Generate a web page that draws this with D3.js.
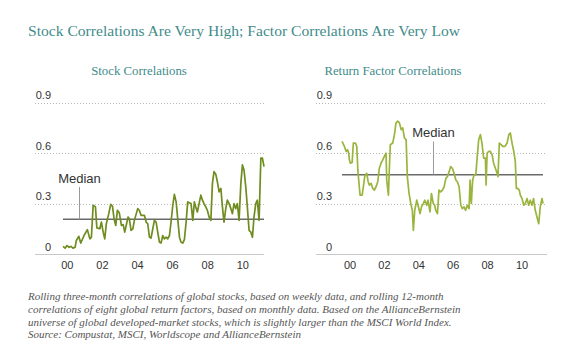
<!DOCTYPE html>
<html>
<head>
<meta charset="utf-8">
<script src="https://cdn.jsdelivr.net/npm/d3@7/dist/d3.min.js"></script>
<style>
  body { margin: 0; background: #fff; }
  svg { display: block; }
  .title { font-family: 'Liberation Serif', serif; fill: #3f8c8a; }
  .sub { font-family: 'Liberation Serif', serif; fill: #3f8c8a; }
  .tick-label { font-family: 'Liberation Sans', Arial, sans-serif; font-size: 11px; fill: #333; }
  .median-label { font-family: 'Liberation Sans', Arial, sans-serif; font-size: 13px; fill: #333; }
  .note { font-family: 'Liberation Serif', serif; font-style: italic; font-size: 11px; fill: #555; }
</style>
</head>
<body>
<div id="chart"></div>
<script>
// stock correlations (rolling three-month, weekly data)
const stockYears = [1999.75, 1999.87, 1999.98, 2000.10, 2000.21, 2000.32, 2000.44, 2000.51, 2000.65, 2000.76,
  2000.95, 2001.14, 2001.28, 2001.37, 2001.47, 2001.60, 2001.68, 2001.85, 2001.94, 2002.04,
  2002.13, 2002.22, 2002.36, 2002.47, 2002.57, 2002.66, 2002.76, 2002.85, 2002.96, 2003.08,
  2003.18, 2003.27, 2003.46, 2003.53, 2003.63, 2003.73, 2003.82, 2004.01, 2004.10, 2004.20,
  2004.39, 2004.49, 2004.58, 2004.68, 2004.77, 2004.87, 2004.96, 2005.06, 2005.15, 2005.25,
  2005.34, 2005.44, 2005.53, 2005.63, 2005.72, 2005.82, 2005.91, 2006.01, 2006.10, 2006.20,
  2006.29, 2006.39, 2006.48, 2006.58, 2006.67, 2006.77, 2006.86, 2007.05, 2007.15, 2007.24,
  2007.32, 2007.41, 2007.51, 2007.61, 2007.70, 2007.79, 2007.89, 2007.98, 2008.08, 2008.18,
  2008.27, 2008.36, 2008.46, 2008.55, 2008.65, 2008.75, 2008.84, 2008.93, 2009.03, 2009.12,
  2009.22, 2009.32, 2009.41, 2009.50, 2009.60, 2009.69, 2009.79, 2009.89, 2009.98, 2010.07,
  2010.17, 2010.26, 2010.36, 2010.46, 2010.55, 2010.64, 2010.74, 2010.83, 2010.93, 2011.03,
  2011.12, 2011.21];
const stockValues = [0.045, 0.035, 0.05, 0.04, 0.045, 0.035, 0.04, 0.08, 0.105, 0.065,
  0.11, 0.145, 0.09, 0.10, 0.29, 0.28, 0.155, 0.15, 0.19, 0.13,
  0.09, 0.18, 0.24, 0.295, 0.285, 0.21, 0.17, 0.26, 0.245, 0.17,
  0.175, 0.13, 0.22, 0.21, 0.14, 0.15, 0.20, 0.27, 0.26, 0.23,
  0.23, 0.19, 0.18, 0.10, 0.095, 0.15, 0.20, 0.19, 0.13, 0.07,
  0.065, 0.11, 0.09, 0.10, 0.09, 0.11, 0.19, 0.29, 0.355, 0.31,
  0.21, 0.10, 0.07, 0.065, 0.085, 0.19, 0.31, 0.30, 0.20, 0.31,
  0.28, 0.25, 0.30, 0.35, 0.32, 0.30, 0.28, 0.26, 0.22, 0.20,
  0.42, 0.49, 0.475, 0.43, 0.37, 0.39, 0.28, 0.19, 0.27, 0.32,
  0.30, 0.27, 0.24, 0.30, 0.27, 0.30, 0.20, 0.42, 0.53, 0.50,
  0.40, 0.28, 0.14, 0.13, 0.10, 0.22, 0.30, 0.32, 0.20, 0.57,
  0.57, 0.52];

// return factor correlations (rolling 12-month, monthly data)
const factorYears = [1999.53, 1999.67, 1999.77, 1999.85, 1999.92, 1999.96, 2000.02, 2000.12, 2000.19, 2000.31,
  2000.39, 2000.45, 2000.51, 2000.58, 2000.70, 2000.77, 2000.85, 2000.97, 2001.05, 2001.12,
  2001.22, 2001.32, 2001.41, 2001.51, 2001.61, 2001.70, 2001.80, 2001.90, 2001.99, 2002.09,
  2002.13, 2002.23, 2002.28, 2002.34, 2002.48, 2002.58, 2002.67, 2002.77, 2002.87, 2002.97,
  2003.06, 2003.16, 2003.26, 2003.33, 2003.43, 2003.53, 2003.62, 2003.68, 2003.76, 2003.88,
  2003.95, 2004.07, 2004.15, 2004.26, 2004.34, 2004.46, 2004.53, 2004.65, 2004.73, 2004.84,
  2004.92, 2004.98, 2005.08, 2005.17, 2005.27, 2005.37, 2005.47, 2005.57, 2005.66, 2005.76,
  2005.85, 2005.95, 2006.05, 2006.15, 2006.24, 2006.34, 2006.44, 2006.53, 2006.63, 2006.72,
  2006.82, 2006.92, 2006.98, 2007.05, 2007.13, 2007.21, 2007.31, 2007.38, 2007.48, 2007.58,
  2007.67, 2007.77, 2007.87, 2007.91, 2007.97, 2008.06, 2008.16, 2008.26, 2008.35, 2008.45,
  2008.55, 2008.60, 2008.68, 2008.78, 2008.88, 2009.01, 2009.13, 2009.23, 2009.32, 2009.42,
  2009.52, 2009.61, 2009.67, 2009.75, 2009.84, 2009.90, 2010.00, 2010.10, 2010.19, 2010.29,
  2010.39, 2010.48, 2010.58, 2010.67, 2010.77, 2010.87, 2010.97, 2011.06, 2011.16, 2011.22];
const factorValues = [0.67, 0.64, 0.61, 0.62, 0.60, 0.56, 0.54, 0.545, 0.66, 0.66,
  0.64, 0.50, 0.43, 0.35, 0.35, 0.40, 0.46, 0.48, 0.43, 0.41,
  0.42, 0.39, 0.38, 0.40, 0.43, 0.51, 0.54, 0.56, 0.58, 0.60,
  0.44, 0.35, 0.50, 0.65, 0.66, 0.71, 0.78, 0.79, 0.78, 0.74,
  0.75, 0.69, 0.68, 0.46, 0.36, 0.30, 0.26, 0.14, 0.26, 0.32,
  0.29, 0.24, 0.28, 0.30, 0.32, 0.29, 0.32, 0.25, 0.36, 0.30,
  0.29, 0.26, 0.24, 0.38, 0.37, 0.38, 0.40, 0.45, 0.46, 0.49,
  0.52, 0.51, 0.48, 0.44, 0.43, 0.40, 0.29, 0.27, 0.28, 0.26,
  0.29, 0.27, 0.44, 0.30, 0.44, 0.47, 0.47, 0.56, 0.68, 0.71,
  0.66, 0.57, 0.57, 0.41, 0.60, 0.61, 0.61, 0.59, 0.54, 0.51,
  0.48, 0.46, 0.66, 0.65, 0.64, 0.64, 0.66, 0.71, 0.72, 0.66,
  0.61, 0.55, 0.39, 0.39, 0.38, 0.35, 0.33, 0.29, 0.30, 0.33,
  0.29, 0.32, 0.29, 0.33, 0.26, 0.22, 0.18, 0.28, 0.33, 0.30];

const stockMedian = 0.206;
const factorMedian = 0.472;

const yTicks = [0, 0.3, 0.6, 0.9];
const yTickLabels = ['0', '0.3', '0.6', '0.9'];
const xTicks = [2000, 2002, 2004, 2006, 2008, 2010];
const xTickLabels = ['00', '02', '04', '06', '08', '10'];

const footnote = [
  'Rolling three-month correlations of global stocks, based on weekly data, and rolling 12-month',
  'correlations of eight global return factors, based on monthly data. Based on the AllianceBernstein',
  'universe of global developed-market stocks, which is slightly larger than the MSCI World Index.',
  'Source: Compustat, MSCI, Worldscope and AllianceBernstein',
];

const width = 580;
const height = 362;

const svg = d3.select('#chart').append('svg')
  .attr('width', width)
  .attr('height', height);

svg.append('rect').attr('width', width).attr('height', height).attr('fill', '#fff');

// main title
svg.append('text')
  .attr('class', 'title')
  .attr('x', 28)
  .attr('y', 36)
  .style('font-size', '15.6px')
  .text('Stock Correlations Are Very High; Factor Correlations Are Very Low');

// shared y scale
const y = d3.scaleLinear().domain([0, 0.9]).range([254, 102.7]);

const panels = [
  {
    title: 'Stock Correlations', titleX: 139,
    years: stockYears, values: stockValues, median: stockMedian,
    gridLeft: 35, gridRight: 264, lineLeft: 63, lineRight: 264, labelRight: 51,
    color: '#6f8c1e', medianYear: 2000.68, medianTop: 187,
  },
  {
    title: 'Return Factor Correlations', titleX: 393,
    years: factorYears, values: factorValues, median: factorMedian,
    gridLeft: 316, gridRight: 547, lineLeft: 342, lineRight: 543, labelRight: 332,
    color: '#9ab53e', medianYear: 2004.84, medianTop: 141.5,
  },
];

panels.forEach((p) => {
  const g = svg.append('g');
  const x = d3.scaleLinear()
    .domain(d3.extent(p.years))
    .range([p.lineLeft, p.lineRight]);

  // panel title
  g.append('text')
    .attr('class', 'sub')
    .attr('x', p.titleX)
    .attr('y', 75)
    .attr('text-anchor', 'middle')
    .style('font-size', '12.8px')
    .text(p.title);

  // dotted gridlines
  g.selectAll('.grid')
    .data(yTicks.filter((d) => d > 0))
    .enter().append('line')
    .attr('x1', p.gridLeft)
    .attr('x2', p.gridRight)
    .attr('y1', (d) => Math.round(y(d)) + 0.5)
    .attr('y2', (d) => Math.round(y(d)) + 0.5)
    .attr('stroke', '#b8b8b8')
    .attr('stroke-dasharray', '1,2');

  // baseline
  g.append('line')
    .attr('x1', p.gridLeft)
    .attr('x2', p.gridRight)
    .attr('y1', Math.round(y(0)) + 0.5)
    .attr('y2', Math.round(y(0)) + 0.5)
    .attr('stroke', '#c8c8c8');

  // y labels sit above their gridlines
  g.selectAll('.ylab')
    .data(yTicks)
    .enter().append('text')
    .attr('class', 'tick-label')
    .attr('x', p.labelRight)
    .attr('y', (d) => y(d) - 3.5)
    .attr('text-anchor', 'end')
    .text((d, i) => yTickLabels[i]);

  // x labels
  g.selectAll('.xlab')
    .data(xTicks)
    .enter().append('text')
    .attr('class', 'tick-label')
    .attr('x', (d) => x(d))
    .attr('y', 268.5)
    .attr('text-anchor', 'middle')
    .text((d, i) => xTickLabels[i]);

  // median line
  g.append('line')
    .attr('x1', p.lineLeft)
    .attr('x2', p.lineRight)
    .attr('y1', y(p.median))
    .attr('y2', y(p.median))
    .attr('stroke', '#6a6a6a')
    .attr('stroke-width', 1.5);

  // series line
  const line = d3.line()
    .x((d, i) => x(p.years[i]))
    .y((d) => y(d));
  g.append('path')
    .datum(p.values)
    .attr('d', line)
    .attr('fill', 'none')
    .attr('stroke', p.color)
    .attr('stroke-width', 1.7)
    .attr('stroke-linejoin', 'round');

  // median callout
  const mx = Math.round(x(p.medianYear)) + 0.5;
  g.append('line')
    .attr('x1', mx)
    .attr('x2', mx)
    .attr('y1', p.medianTop)
    .attr('y2', y(p.median))
    .attr('stroke', '#999')
    .attr('stroke-width', 1);
  g.append('text')
    .attr('class', 'median-label')
    .attr('x', mx)
    .attr('y', p.medianTop - 4.5)
    .attr('text-anchor', 'middle')
    .text('Median');
});

// footnote
svg.append('g').selectAll('text')
  .data(footnote)
  .enter().append('text')
  .attr('class', 'note')
  .attr('x', 28)
  .attr('y', (d, i) => 300 + i * 12.8)
  .text((d) => d);
</script>
</body>
</html>
